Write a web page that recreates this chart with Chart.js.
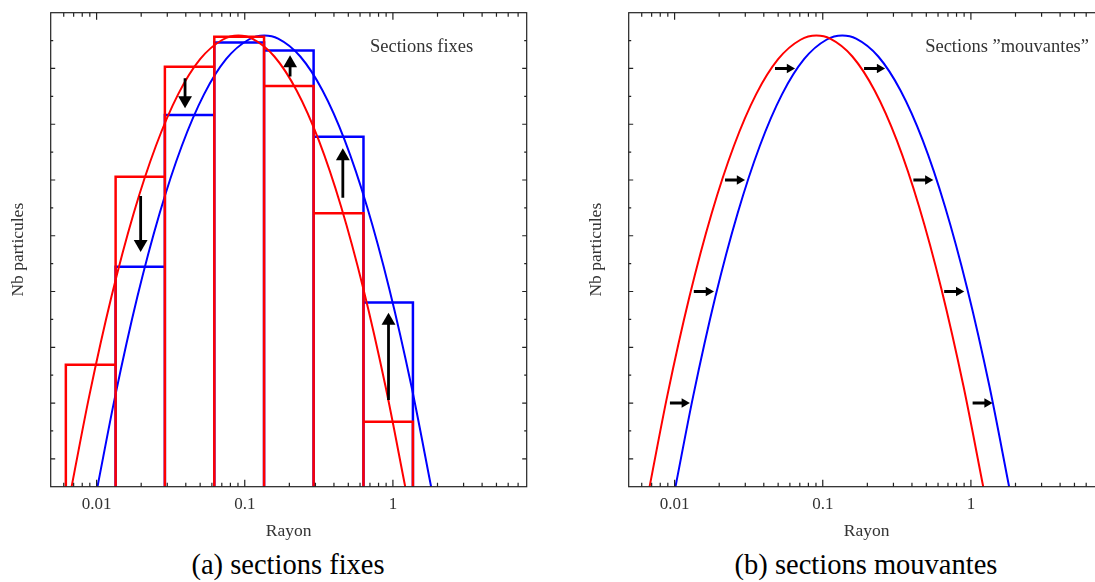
<!DOCTYPE html>
<html>
<head>
<meta charset="utf-8">
<script src="https://cdn.jsdelivr.net/npm/chart.js@4/dist/chart.umd.min.js"></script>
<style>
html, body { margin: 0; padding: 0; overflow: hidden; background: #fff; }
body { position: relative; width: 1095px; height: 582px; }
.panel { position: absolute; top: 0; width: 560px; height: 545px; }
.panel canvas { display: block; }
.cap { position: absolute; top: 551px; width: 576px; text-align: center;
       font: 28.5px/28px "Liberation Serif", serif; color: #000; }
</style>
</head>
<body>
<div class="panel" style="left:0"><canvas id="fixes" width="560" height="545"></canvas></div>
<div class="panel" style="left:578px"><canvas id="mouvantes" width="560" height="545"></canvas></div>
<div class="cap" style="left:0">(a) sections fixes</div>
<div class="cap" style="left:578px">(b) sections mouvantes</div>
<script>
// axis ticks
const xTickValues = [0.01, 0.1, 1];
const xTickLabels = ['0.01', '0.1', '1'];

// distribution before (red) and after (blue)
const redCurveX = [0.00678, 0.00891, 0.01259, 0.01778, 0.02512, 0.03548, 0.05012, 0.07079, 0.09057,
                   0.1122, 0.1585, 0.2239, 0.3162, 0.4467, 0.6310, 0.8913, 1.211];
const redCurveY = [0, 3.24, 6.81, 9.80, 12.22, 14.07, 15.34, 16.03, 16.18,
                   16.07, 15.43, 14.21, 12.42, 10.05, 7.11, 3.60, 0];
const blueCurveX = [0.01014, 0.01334, 0.01884, 0.02661, 0.03758, 0.05309, 0.07499, 0.1059, 0.1355,
                    0.1679, 0.2371, 0.3350, 0.4732, 0.6683, 0.9441, 1.334, 1.811];
const blueCurveY = [0, 3.24, 6.81, 9.80, 12.22, 14.07, 15.34, 16.03, 16.18,
                    16.07, 15.43, 14.21, 12.42, 10.05, 7.11, 3.60, 0];

// fixed sections
const binEdges = [0.0062, 0.01344, 0.0289, 0.0623, 0.135, 0.2916, 0.633, 1.365];
const redBins = [4.37, 11.12, 15.06, 16.14, 14.37, 9.81, 2.33];
const blueBins = [0, 7.89, 13.33, 15.93, 15.64, 12.55, 6.61];

// vertical arrows (left panel): x, tail, head
const leftArrowX = [0.01983, 0.03954, 0.2023, 0.4592, 0.934];
const leftArrowTail = [10.43, 14.65, 14.71, 10.36, 3.11];
const leftArrowHead = [8.70, 13.86, 15.19, 11.85, 5.95];

// horizontal arrows (right panel): y, tail, head
const rightArrowY = [15, 11, 7, 3, 15, 11, 7, 3];
const rightArrowTail = [0.0476, 0.0219, 0.01348, 0.00930, 0.190, 0.409, 0.660, 1.027];
const rightArrowHead = [0.0597, 0.02745, 0.01693, 0.01164, 0.2420, 0.5122, 0.828, 1.287];

const RED = '#ff0000';
const BLUE = '#0000ff';
const INK = '#333';

Chart.defaults.font.family = '"Liberation Serif", serif';
Chart.defaults.color = INK;

function pts(xs, ys) {
    return xs.map((x, i) => ({x: x, y: ys[i]}));
}

function binPath(heights) {
    const out = [];
    heights.forEach((h, i) => {
        if (!h) return;
        out.push({x: binEdges[i], y: 0}, {x: binEdges[i], y: h},
                 {x: binEdges[i + 1], y: h}, {x: binEdges[i + 1], y: 0});
    });
    return out;
}

function stroke(data, color, width, smooth) {
    return {
        data: data,
        borderColor: color,
        borderWidth: width,
        borderJoinStyle: 'miter',
        pointRadius: 0,
        fill: false,
        tension: 0,
        cubicInterpolationMode: smooth ? 'monotone' : 'default'
    };
}

function arrow(p0, p1, rot, r, w) {
    return {
        data: [p0, p1],
        borderColor: '#000',
        borderWidth: w,
        pointRadius: [0, r],
        pointHoverRadius: 0,
        pointStyle: 'triangle',
        pointRotation: rot,
        pointBackgroundColor: '#000',
        pointBorderWidth: 0,
        tension: 0
    };
}

// box around the plot with inward tick marks
const frameTicks = {
    id: 'frameTicks',
    afterDatasetsDraw(chart) {
        const {ctx, chartArea: a, scales: {x, y}} = chart;
        ctx.save();
        ctx.strokeStyle = '#222';
        ctx.lineWidth = 1.2;
        ctx.strokeRect(a.left, a.top, a.right - a.left, a.bottom - a.top);
        ctx.beginPath();
        x.ticks.forEach(t => {
            const v = t.value;
            if (v <= x.min || v >= x.max) return;
            const e = Math.pow(10, Math.floor(Math.log10(v) + 1e-9));
            const m = v / e;
            if (Math.abs(m - Math.round(m)) > 1e-6) return;
            const len = Math.round(m) === 1 ? 7 : 4;
            const px = x.getPixelForValue(v);
            ctx.moveTo(px, a.bottom); ctx.lineTo(px, a.bottom - len);
            ctx.moveTo(px, a.top); ctx.lineTo(px, a.top + len);
        });
        y.ticks.forEach(t => {
            const v = t.value;
            if (v <= y.min || v >= y.max) return;
            const len = v % 2 ? 4.5 : 2.5;
            const py = y.getPixelForValue(v);
            ctx.moveTo(a.left, py); ctx.lineTo(a.left + len, py);
            ctx.moveTo(a.right, py); ctx.lineTo(a.right - len, py);
        });
        ctx.stroke();
        ctx.restore();
    }
};

const note = {
    id: 'note',
    afterDatasetsDraw(chart, args, opts) {
        const {ctx, scales: {x, y}} = chart;
        ctx.save();
        ctx.font = '18.5px "Liberation Serif", serif';
        ctx.fillStyle = INK;
        ctx.textBaseline = 'middle';
        ctx.fillText(opts.text, x.getPixelForValue(opts.x), y.getPixelForValue(opts.y));
        ctx.restore();
    }
};

function makeOptions(noteOpts) {
    return {
        responsive: false,
        animation: false,
        layout: {padding: {top: 12.7, right: 33.3, left: 0, bottom: 0}},
        plugins: {
            legend: {display: false},
            tooltip: {enabled: false},
            note: noteOpts
        },
        scales: {
            x: {
                type: 'logarithmic',
                min: 0.0049,
                max: 8,
                grid: {display: false, drawTicks: false},
                border: {display: false},
                ticks: {
                    autoSkip: false,
                    maxRotation: 0,
                    padding: 8,
                    color: INK,
                    font: {size: 17},
                    callback: v => {
                        const i = xTickValues.findIndex(t => Math.abs(t / v - 1) < 1e-6);
                        return i >= 0 ? xTickLabels[i] : '';
                    }
                },
                title: {display: true, text: 'Rayon', color: INK, font: {size: 17.5}, padding: {top: 0, bottom: 3}},
                afterFit: s => { s.height = 58.3; }
            },
            y: {
                min: 0,
                max: 17,
                grid: {display: false, drawTicks: false},
                border: {display: false},
                ticks: {display: false, stepSize: 1},
                title: {display: true, text: 'Nb particules', color: INK, font: {size: 17.5}, padding: {top: 8, bottom: 0}},
                afterFit: s => { s.width = 50.7; }
            }
        }
    };
}

window.addEventListener('load', () => {
    const leftArrows = leftArrowX.map((x, i) =>
        arrow({x: x, y: leftArrowTail[i]}, {x: x, y: leftArrowHead[i]},
              leftArrowHead[i] > leftArrowTail[i] ? 0 : 180, 8, 2.8));
    const rightArrows = rightArrowY.map((y, i) =>
        arrow({x: rightArrowTail[i], y: y}, {x: rightArrowHead[i], y: y}, 90, 5.5, 3));

    new Chart(document.getElementById('fixes'), {
        type: 'line',
        data: {
            datasets: [
                ...leftArrows,
                stroke(pts(redCurveX, redCurveY), RED, 2, true),
                stroke(binPath(redBins), RED, 2.5, false),
                stroke(pts(blueCurveX, blueCurveY), BLUE, 2, true),
                stroke(binPath(blueBins), BLUE, 2.5, false)
            ]
        },
        options: makeOptions({text: 'Sections fixes', x: 0.70, y: 15.77}),
        plugins: [frameTicks, note]
    });

    new Chart(document.getElementById('mouvantes'), {
        type: 'line',
        data: {
            datasets: [
                ...rightArrows,
                stroke(pts(redCurveX, redCurveY), RED, 2, true),
                stroke(pts(blueCurveX, blueCurveY), BLUE, 2, true)
            ]
        },
        options: makeOptions({text: 'Sections \u201Dmouvantes\u201D', x: 0.491, y: 15.77}),
        plugins: [frameTicks, note]
    });
});
</script>
</body>
</html>
